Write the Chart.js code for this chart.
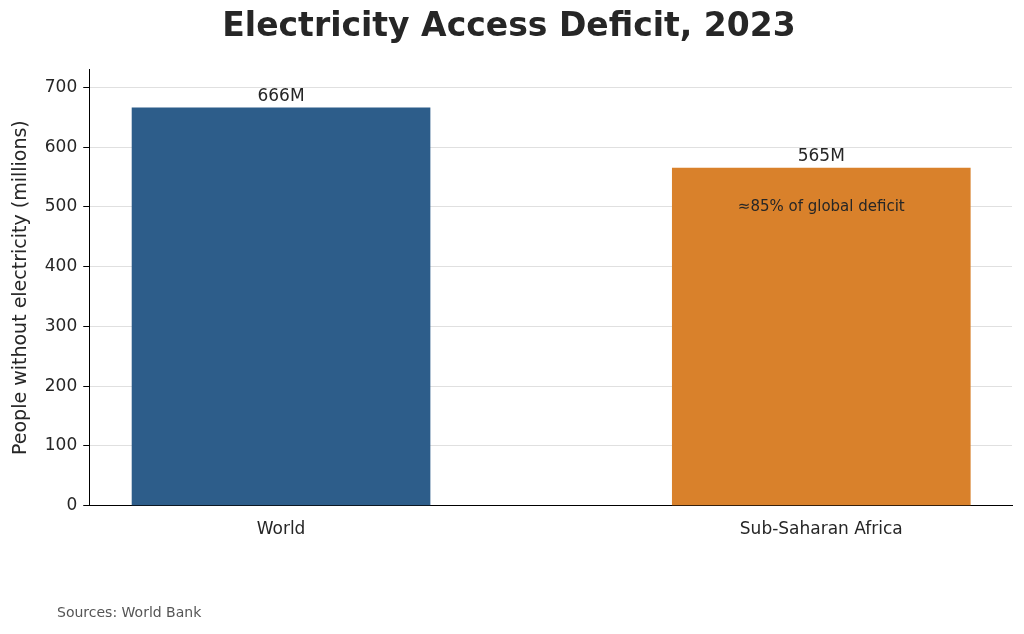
<!DOCTYPE html>
<html>
<head>
<meta charset="utf-8">
<script src="https://cdn.jsdelivr.net/npm/chart.js@4/dist/chart.umd.min.js"></script>
<style>
  html, body { margin: 0; padding: 0; background: #fff; }
  #wrap { width: 1024px; height: 634px; position: relative; }
</style>
</head>
<body>
<div id="wrap"><canvas id="myChart"></canvas></div>
<script>
// Data
const regions = ['World', 'Sub-Saharan Africa'];
const peopleWithout = [666, 565];
const valueLabels = ['666M', '565M'];
const barColors = ['#2d5d8a', '#d9812b'];

Chart.defaults.font.family = 'DejaVu Sans';
Chart.defaults.color = '#262626';

// value labels, annotation and source note
const annotate = {
    id: 'annotate',
    afterDatasetsDraw(chart) {
        const c = chart.ctx;
        const x = chart.scales.x, y = chart.scales.y;
        c.save();
        c.fillStyle = '#262626';
        c.textAlign = 'center';
        c.textBaseline = 'bottom';
        c.font = '17px DejaVu Sans';
        peopleWithout.forEach((v, i) => {
            c.fillText(valueLabels[i], x.getPixelForValue(i), y.getPixelForValue(v) - 3);
        });
        c.textBaseline = 'middle';
        c.font = '15px DejaVu Sans';
        c.fillText('\u224885% of global deficit', x.getPixelForValue(1), y.getPixelForValue(500));
        c.textAlign = 'left';
        c.font = '14px DejaVu Sans';
        c.fillStyle = '#555';
        c.fillText('Sources: World Bank', 57, 613);
        c.restore();
    }
};

const ctx = document.getElementById('myChart');
new Chart(ctx, {
    type: 'bar',
    data: {
        datasets: [{
            data: peopleWithout.map((v, i) => ({x: i, y: v})),
            backgroundColor: barColors,
            barThickness: 298
        }]
    },
    plugins: [annotate],
    options: {
        responsive: true,
        maintainAspectRatio: false,
        animation: false,
        layout: {padding: {left: 6, right: 12, top: 0, bottom: 88}},
        plugins: {
            legend: {display: false},
            tooltip: {enabled: false},
            title: {
                display: true,
                text: 'Electricity Access Deficit, 2023',
                font: {size: 33, weight: 'bold'},
                color: '#262626',
                padding: {top: 8, bottom: 22}
            }
        },
        scales: {
            x: {
                type: 'linear',
                offset: false,
                min: -0.355,
                max: 1.353,
                afterBuildTicks: axis => { axis.ticks = [{value: 0}, {value: 1}]; },
                ticks: {
                    callback: v => regions[v],
                    font: {size: 17},
                    padding: 6
                },
                grid: {display: false, drawTicks: true},
                border: {color: '#000', width: 1}
            },
            y: {
                min: 0,
                max: 730,
                afterBuildTicks: axis => {
                    axis.ticks = [0, 100, 200, 300, 400, 500, 600, 700].map(v => ({value: v}));
                },
                ticks: {font: {size: 17}, padding: 6},
                grid: {color: '#e0e0e0', tickLength: 6, tickColor: '#000'},
                border: {color: '#000', width: 1},
                title: {
                    display: true,
                    text: 'People without electricity (millions)',
                    font: {size: 19},
                    padding: {bottom: 6}
                }
            }
        }
    }
});
</script>
</body>
</html>
